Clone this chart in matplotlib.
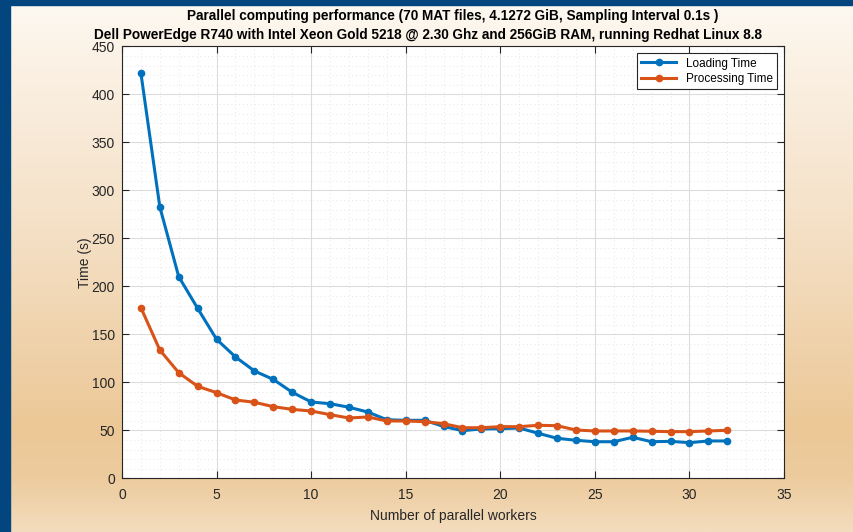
import numpy as np
import matplotlib
matplotlib.use("Agg")
import matplotlib.pyplot as plt
from matplotlib.colors import LinearSegmentedColormap
from matplotlib.ticker import MultipleLocator
from matplotlib.patches import Rectangle

workers = list(range(1, 33))
loading_time = [422, 282.6, 210, 177, 144.8, 126.4, 111.8, 103, 89.6, 79.5,
                77.7, 74, 69, 61, 60.4, 60.4, 54, 49.6, 51.4, 51.7,
                52.4, 46.9, 41.7, 39.6, 38.1, 38.1, 42.7, 38.1, 38.5, 37.1,
                38.9, 38.9]
processing_time = [177.7, 133.6, 110, 95.8, 89.2, 81.6, 79.2, 74.6, 71.8, 70.1,
                   66.3, 62.8, 63.9, 59.7, 59.7, 59, 56.9, 52.7, 52.7, 53.8,
                   53.8, 55.2, 54.8, 50.3, 49.3, 49.3, 49.3, 49, 48.6, 48.6,
                   49.3, 50]
series_names = ["Loading Time", "Processing Time"]
title_lines = ["Parallel computing performance (70 MAT files, 4.1272 GiB, Sampling Interval 0.1s )",
               "Dell PowerEdge R740 with Intel Xeon Gold 5218 @ 2.30 Ghz and 256GiB RAM, running Redhat Linux 8.8"]

W, H = 854, 532
fig = plt.figure(figsize=(W / 100, H / 100), dpi=100)

# background gradient
bg = fig.add_axes([0, 0, 1, 1], zorder=-10)
bg.set_axis_off()
cmap = LinearSegmentedColormap.from_list(
    "bgrad",
    [(0.0, "#FDF9F2"), (0.12, "#FBF1E4"), (0.45, "#F4DFC4"),
     (0.80, "#ECC897"), (0.90, "#EDCB9D"), (1.0, "#F3DCBD")])
grad = np.linspace(0, 1, 256).reshape(-1, 1)
bg.imshow(grad, aspect="auto", cmap=cmap, extent=[0, 1, 0, 1], origin="upper")
bg.set_xlim(0, 1)
bg.set_ylim(0, 1)
blue = "#02457F"
bg.add_patch(Rectangle((0, 0), 10 / W, 1, color=blue, transform=bg.transAxes))
bg.add_patch(Rectangle((0, 1 - 5 / H), 1, 5 / H, color=blue, transform=bg.transAxes))

left, right, top, bottom = 122, 784, 46.3, 478.3
ax = fig.add_axes([left / W, 1 - bottom / H, (right - left) / W, (bottom - top) / H])
ax.set_facecolor("white")

c1, c2 = "#0072BD", "#D95319"
ax.plot(workers, loading_time, color=c1, lw=2.2, marker=".", ms=9, label=series_names[0], zorder=3)
ax.plot(workers, processing_time, color=c2, lw=2.2, marker=".", ms=9, label=series_names[1], zorder=3)

ax.set_xlim(0, 35)
ax.set_ylim(0, 450)
ax.xaxis.set_major_locator(MultipleLocator(5))
ax.xaxis.set_minor_locator(MultipleLocator(1))
ax.yaxis.set_major_locator(MultipleLocator(50))
ax.yaxis.set_minor_locator(MultipleLocator(10))
ax.grid(True, which="major", color="#DCDCDC", lw=0.8)
ax.grid(True, which="minor", color="#E6E6E6", lw=0.7, linestyle=(0, (1, 3)))
ax.set_axisbelow(True)

tick_font = "Liberation Sans"
for sp in ax.spines.values():
    sp.set_color("#262626")
    sp.set_linewidth(0.8)
ax.tick_params(which="both", direction="in", top=True, right=True, colors="#262626",
               labelsize=10, labelcolor="#262626")
ax.tick_params(which="major", length=5)
ax.tick_params(axis="x", which="major", pad=7)
ax.tick_params(axis="y", which="major", pad=5)
ax.tick_params(which="minor", length=0)
for lab in ax.get_xticklabels() + ax.get_yticklabels():
    lab.set_fontfamily(tick_font)

ax.set_xlabel("Number of parallel workers", fontsize=10, family=tick_font, color="#262626", labelpad=5)
ax.set_ylabel("Time (s)", fontsize=10, family=tick_font, color="#262626", labelpad=0)

title_font = ["Liberation Sans Narrow", "Liberation Sans"]
fig.text(453 / W, 1 - 16 / H, title_lines[0], ha="center", va="center",
         fontsize=9.8, fontweight="bold", family=title_font, color="black")
fig.text(428 / W, 1 - 35 / H, title_lines[1], ha="center", va="center",
         fontsize=9.8, fontweight="bold", family=title_font, color="black")

leg = ax.legend(loc="upper right", prop={"family": tick_font, "size": 8.5},
                frameon=True, fancybox=False, edgecolor="#262626", framealpha=1,
                borderaxespad=0.6, handlelength=3.0, borderpad=0.35, labelspacing=0.3)
leg.get_frame().set_linewidth(0.8)

fig.savefig("out.png", dpi=100)
